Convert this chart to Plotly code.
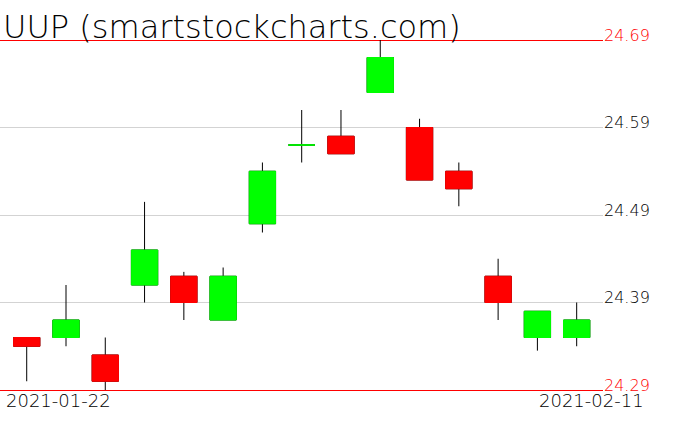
import plotly.graph_objects as go

dates = ["2021-01-22", "2021-01-25", "2021-01-26", "2021-01-27", "2021-01-28",
         "2021-01-29", "2021-02-01", "2021-02-02", "2021-02-03", "2021-02-04",
         "2021-02-05", "2021-02-08", "2021-02-09", "2021-02-10", "2021-02-11"]
opens = [24.35, 24.35, 24.33, 24.41, 24.42, 24.37, 24.48, 24.57, 24.58, 24.63,
         24.59, 24.54, 24.42, 24.35, 24.35]
highs = [24.35, 24.41, 24.35, 24.505, 24.425, 24.43, 24.55, 24.61, 24.61, 24.69,
         24.60, 24.55, 24.44, 24.38, 24.39]
lows = [24.30, 24.34, 24.29, 24.39, 24.37, 24.37, 24.47, 24.55, 24.56, 24.63,
        24.53, 24.50, 24.37, 24.335, 24.34]
closes = [24.34, 24.37, 24.30, 24.45, 24.39, 24.42, 24.54, 24.57, 24.56, 24.67,
          24.53, 24.52, 24.39, 24.38, 24.37]
grid_vals = [24.39, 24.49, 24.59]
grid_text = ["24.39", "24.49", "24.59"]
limit_vals = [24.29, 24.69]
limit_text = ["24.29", "24.69"]
title_text = "UUP (smartstockcharts.com)"

GREEN = "#00ff00"
RED = "#ff0000"
YRANGE = [24.266, 24.7243]
THIN = "DejaVu Sans"

fig = go.Figure()
# wicks (black)
fig.add_trace(go.Candlestick(
    x=dates, open=opens, high=highs, low=lows, close=closes,
    increasing=dict(line=dict(color="black", width=1), fillcolor="black"),
    decreasing=dict(line=dict(color="black", width=1), fillcolor="black"),
    hoverinfo="skip", showlegend=False))
# bodies (coloured, no wicks)
body_hi = [max(o, c) for o, c in zip(opens, closes)]
body_lo = [min(o, c) for o, c in zip(opens, closes)]
fig.add_trace(go.Candlestick(
    x=dates, open=opens, high=body_hi, low=body_lo, close=closes,
    increasing=dict(line=dict(color=GREEN, width=1), fillcolor=GREEN),
    decreasing=dict(line=dict(color=RED, width=1), fillcolor=RED),
    hoverinfo="skip", showlegend=False))
# invisible carrier so the red limit axis (y2) is drawn
fig.add_trace(go.Scatter(x=[dates[0], dates[0]], y=limit_vals, mode="none",
                         yaxis="y2", hoverinfo="skip", showlegend=False))

fig.add_annotation(text=title_text, xref="paper", yref="paper", x=0.002, y=0.958,
                   xanchor="left", yanchor="middle", showarrow=False,
                   font=dict(family=THIN, size=32, weight=200, color="black"))
fig.add_annotation(text=dates[0], xref="paper", yref="paper", x=0.006, y=0.027,
                   xanchor="left", yanchor="middle", showarrow=False,
                   font=dict(family=THIN, size=18, weight=200, color="black"))
fig.add_annotation(text=dates[-1], xref="paper", yref="paper", x=1.072, y=0.027,
                   xanchor="right", yanchor="middle", showarrow=False,
                   font=dict(family=THIN, size=18, weight=200, color="black"))

common_y = dict(side="right", range=YRANGE, zeroline=False, ticks="",
                ticklabelshift=-5, showgrid=True, gridwidth=1, fixedrange=True)

fig.update_layout(
    width=676, height=431,
    margin=dict(l=0, r=73, t=10, b=20),
    paper_bgcolor="white", plot_bgcolor="white",
    showlegend=False,
    boxgap=0.33, boxgroupgap=0,
    xaxis=dict(type="category", range=[-0.68, 14.67], showticklabels=False,
               showgrid=False, zeroline=False, rangeslider=dict(visible=False),
               fixedrange=True),
    yaxis=dict(tickvals=grid_vals, ticktext=grid_text, gridcolor="#d3d3d3",
               tickfont=dict(family=THIN, size=16, weight=200, color="black"),
               **common_y),
    yaxis2=dict(overlaying="y", tickvals=limit_vals, ticktext=limit_text,
                gridcolor=RED,
                tickfont=dict(family=THIN, size=16, weight=200, color=RED),
                **common_y),
)

fig.write_html("out.html", config={"displayModeBar": False},
               post_script="document.body.style.margin='0';")
